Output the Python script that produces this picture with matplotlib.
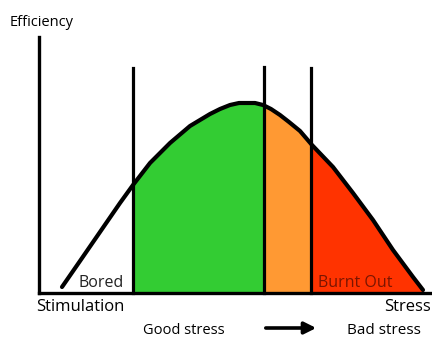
import numpy as np
import matplotlib.pyplot as plt

# Efficiency vs. stress curve (stress on x, efficiency on y)
stress = [23, 41, 61, 81, 94, 111, 131, 151, 171, 181, 191, 200, 208,
          216, 224, 232, 241, 250, 261, 273, 294, 314, 334, 354, 374, 384]
efficiency = [6, 32, 61, 90, 108, 130, 150, 167, 179, 184, 188, 190, 190,
              190, 188, 184, 178, 171, 162, 148, 126, 100, 73, 43, 16, 3]

# Zone boundaries on the stress axis
bounds = [94, 225, 272]
zone_colors = ['#33cc33', '#ff9933', '#ff3300']
divider_top = [225, 226, 225]

stress = np.array(stress, dtype=float)
efficiency = np.array(efficiency, dtype=float)

fig = plt.figure(figsize=(4.32, 3.45), dpi=100)
ax = fig.add_axes([0, 0, 1, 1])
ax.set_xlim(-39, 393)
ax.set_ylim(-52, 293)
ax.axis('off')

# coloured zones under the curve
edges = bounds + [stress[-1]]
for i, c in enumerate(zone_colors):
    x0, x1 = edges[i], edges[i + 1]
    inner = stress[(stress > x0) & (stress < x1)]
    xs = np.concatenate([[x0], inner, [x1]])
    ys = np.interp(xs, stress, efficiency)
    ax.fill_between(xs, 0, ys, color=c, lw=0, zorder=1)

ax.plot(stress, efficiency, color='black', lw=3.0, solid_capstyle='round',
        solid_joinstyle='round', zorder=3)

# dividers
for x, top in zip(bounds, divider_top):
    ax.plot([x, x], [0, top], color='black', lw=2.3, zorder=2)

# axes
ax.plot([0, 0], [0, 256], color='black', lw=2.4, zorder=4)
ax.plot([0, 391], [0, 0], color='black', lw=2.4, zorder=4)

font = 'Open Sans'
ax.text(-29, 271, 'Efficiency', fontsize=10.5, family=font, va='center')
ax.text(-3, -14, 'Stimulation', fontsize=12, family=font, va='center')
ax.text(392, -14, 'Stress', fontsize=12, family=font, va='center', ha='right')
ax.text(39, 10, 'Bored', fontsize=11.5, family=font, va='center', color='#222222')
ax.text(279, 10, 'Burnt Out', fontsize=11.5, family=font, va='center', color='#7a1500')
ax.text(104, -37, 'Good stress', fontsize=10.5, family=font, va='center')
ax.text(308, -37, 'Bad stress', fontsize=11, family=font, va='center')
ax.annotate('', xy=(280, -35), xytext=(224, -35),
            arrowprops=dict(arrowstyle='-|>,head_length=0.7,head_width=0.35',
                            color='black', lw=2.6))

fig.savefig('out.png', dpi=100)
